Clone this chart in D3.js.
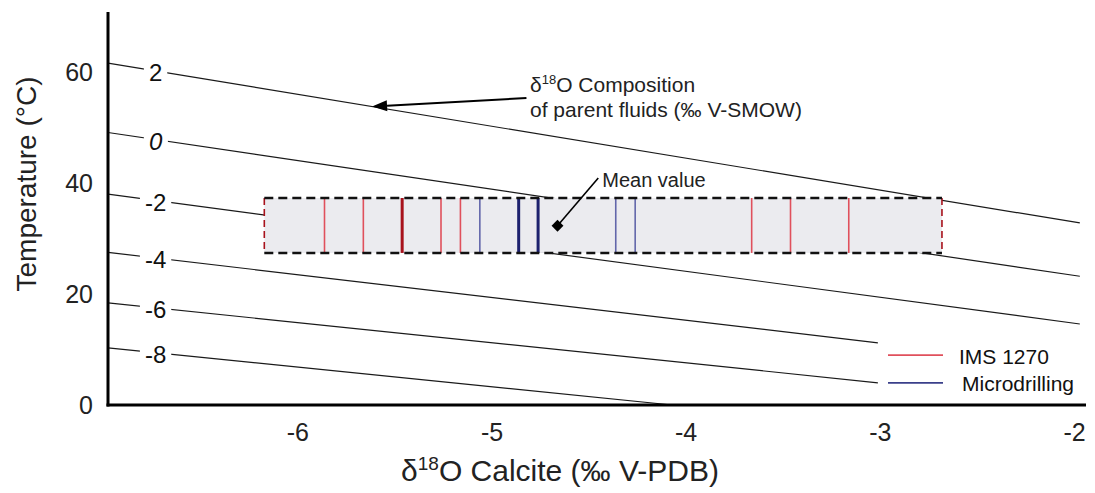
<!DOCTYPE html>
<html>
<head>
<meta charset="utf-8">
<script src="https://cdn.jsdelivr.net/npm/d3@7"></script>
<style>
  html, body { margin: 0; padding: 0; background: #fff; }
  svg { display: block; font-family: "Liberation Sans", Arial, sans-serif; }
</style>
</head>
<body>
<svg id="chart" width="1095" height="493"></svg>
<script>
// ---- data ----
const xTicks = [-6, -5, -4, -3, -2];
const yTicks = [0, 20, 40, 60];
const fluidValues = [2, 0, -2, -4, -6, -8];          // δ18O fluid (‰ V-SMOW)
const fluidStartX = [-6.975, -6.975, -6.975, -6.975, -6.975, -6.975];
const fluidStartT = [61.6, 49.1, 38.0, 27.5, 18.4, 10.3];
const fluidEndX = [-1.97, -1.97, -1.97, -3.01, -3.01, -4.07];
const fluidEndT = [32.8, 23.2, 14.6, 11.2, 4.0, 0];
const imsValues = [-6.17, -5.86, -5.66, -5.46, -5.46, -5.26, -5.16, -3.66, -3.46, -3.16, -2.68];
const microValues = [-5.06, -4.86, -4.86, -4.76, -4.76, -4.36, -4.26];
const rangeX = [-6.17, -2.68];
const rangeT = [27.4, 37.3];
const meanValue = [-4.66, 32.3];
const legendLabels = ["IMS 1270", "Microdrilling"];

// ---- scales ----
const svg = d3.select("#chart");
const x = d3.scaleLinear().domain([-6.975, -2]).range([108, 1074]);
const y = d3.scaleLinear().domain([0, 60]).range([405, 72]);

const fluids = fluidValues.map((v, i) => ({
  v, x0: fluidStartX[i], t0: fluidStartT[i], x1: fluidEndX[i], t1: fluidEndT[i]
}));
const tAt = (f, xv) => f.t0 + (f.t1 - f.t0) * (xv - f.x0) / (f.x1 - f.x0);

// ---- fluid composition lines ----
svg.append("g").selectAll("line").data(fluids).join("line")
  .attr("x1", d => x(d.x0)).attr("y1", d => y(d.t0))
  .attr("x2", d => x(d.x1)).attr("y2", d => y(d.t1))
  .attr("stroke", "#1a1a1a").attr("stroke-width", 1.2);

// ---- range box ----
svg.append("rect")
  .attr("x", x(rangeX[0])).attr("y", y(rangeT[1]))
  .attr("width", x(rangeX[1]) - x(rangeX[0]))
  .attr("height", y(rangeT[0]) - y(rangeT[1]))
  .attr("fill", "#ebebef");

// ---- sample lines ----
function drawSamples(values, color, darkColor) {
  const counts = d3.rollups(values, g => g.length, d => d);
  svg.append("g").selectAll("line").data(counts).join("line")
    .attr("x1", d => x(d[0])).attr("x2", d => x(d[0]))
    .attr("y1", y(rangeT[1])).attr("y2", y(rangeT[0]))
    .attr("stroke", d => {
      const edge = d[0] === rangeX[0] || d[0] === rangeX[1];
      return (d[1] > 1 || edge) ? darkColor : color;
    })
    .attr("stroke-width", d => d[1] > 1 ? 3 : 1.6)
    .attr("stroke-dasharray", d => (d[0] === rangeX[0] || d[0] === rangeX[1]) ? "7,4" : null);
}
drawSamples(imsValues, "#e0505c", "#a8121c");
drawSamples(microValues, "#6266aa", "#1d216e");

// box dashed top/bottom
[rangeT[1], rangeT[0]].forEach(t => {
  svg.append("line")
    .attr("x1", x(rangeX[0])).attr("x2", x(rangeX[1]))
    .attr("y1", y(t)).attr("y2", y(t))
    .attr("stroke", "#111").attr("stroke-width", 2.4)
    .attr("stroke-dasharray", "9,5");
});

// ---- fluid labels ----
const labelX = -6.73;
const gL = svg.append("g");
fluids.forEach(f => {
  const cx = x(labelX), cy = y(tAt(f, labelX)) + 2;
  const g = gL.append("g");
  const txt = g.append("text")
    .attr("x", cx).attr("y", cy)
    .attr("text-anchor", "middle").attr("dominant-baseline", "central")
    .attr("font-size", 24).attr("fill", "#111")
    .attr("font-style", f.v === 0 ? "italic" : "normal")
    .text(f.v);
  const bb = txt.node().getBBox();
  g.insert("rect", "text")
    .attr("x", bb.x - 5).attr("y", bb.y + 3)
    .attr("width", bb.width + 10).attr("height", bb.height - 6)
    .attr("fill", "#fff");
});

// ---- axes ----
svg.append("line").attr("x1", 108).attr("x2", 108).attr("y1", 12).attr("y2", 406.5)
  .attr("stroke", "#000").attr("stroke-width", 3);
svg.append("line").attr("x1", 106.5).attr("x2", 1086).attr("y1", 405).attr("y2", 405)
  .attr("stroke", "#000").attr("stroke-width", 3);

const xAxis = svg.append("g").attr("transform", "translate(0,405)")
  .call(d3.axisBottom(x).tickValues(xTicks).tickSize(0).tickPadding(22).tickFormat(d => d));
xAxis.select(".domain").remove();
xAxis.selectAll("text").attr("font-size", 25).attr("fill", "#222")
  .attr("font-family", "Liberation Sans, Arial, sans-serif").attr("dy", "0.55em");

const yAxis = svg.append("g").attr("transform", "translate(108,0)")
  .call(d3.axisLeft(y).tickValues(yTicks).tickSize(0).tickPadding(15).tickFormat(d => d));
yAxis.select(".domain").remove();
yAxis.selectAll("text").attr("font-size", 25).attr("fill", "#222")
  .attr("font-family", "Liberation Sans, Arial, sans-serif");

// axis titles
svg.append("text")
  .attr("transform", "translate(26,184) rotate(-90)")
  .attr("text-anchor", "middle").attr("dominant-baseline", "central")
  .attr("font-size", 28).attr("fill", "#222")
  .text("Temperature (°C)");

const xt = svg.append("text")
  .attr("x", 560).attr("y", 481)
  .attr("text-anchor", "middle")
  .attr("font-size", 30).attr("fill", "#222");
xt.append("tspan").text("δ");
xt.append("tspan").attr("font-size", 19).attr("dy", -11).text("18");
xt.append("tspan").attr("dy", 11).text("O Calcite (‰ V-PDB)");

// ---- annotation: fluid composition ----
const f2 = fluids[0];
const tipX = -5.615, tipT = tAt(f2, tipX);
const startX = -4.82, startT = 55.3;
const sx = x(startX), sy = y(startT), tx = x(tipX), ty = y(tipT);
const ang = Math.atan2(ty - sy, tx - sx);
const headL = 15, headW = 5.5;
const bx = tx - headL * Math.cos(ang), by = ty - headL * Math.sin(ang);
svg.append("line").attr("x1", sx).attr("y1", sy).attr("x2", bx).attr("y2", by)
  .attr("stroke", "#000").attr("stroke-width", 2);
svg.append("path")
  .attr("d", `M${tx},${ty} L${bx + headW * Math.sin(ang)},${by - headW * Math.cos(ang)} L${bx - headW * Math.sin(ang)},${by + headW * Math.cos(ang)} Z`)
  .attr("fill", "#000");

const at = svg.append("text").attr("x", 530).attr("y", 92)
  .attr("font-size", 21).attr("fill", "#222");
at.append("tspan").text("δ");
at.append("tspan").attr("font-size", 13).attr("dy", -8).text("18");
at.append("tspan").attr("dy", 8).text("O Composition");
svg.append("text").attr("x", 530).attr("y", 117)
  .attr("font-size", 21).attr("fill", "#222")
  .text("of parent fluids (‰ V-SMOW)");

// ---- mean value ----
const mx = x(meanValue[0]), my = y(meanValue[1]);
const lx = x(-4.45), ly = y(40.9);
svg.append("line").attr("x1", mx).attr("y1", my).attr("x2", lx).attr("y2", ly)
  .attr("stroke", "#000").attr("stroke-width", 1.6);
svg.append("path")
  .attr("d", d3.symbol(d3.symbolDiamond2, 90)())
  .attr("transform", `translate(${mx},${my})`)
  .attr("fill", "#000");
svg.append("text").attr("x", lx + 4).attr("y", ly + 2)
  .attr("dominant-baseline", "central")
  .attr("font-size", 20).attr("fill", "#222").text("Mean value");

// ---- legend ----
const legColors = ["#e0505c", "#3a3f8a"];
const legY = [y(9.0), y(4.0)];
legendLabels.forEach((lab, i) => {
  svg.append("line").attr("x1", 888).attr("x2", 943)
    .attr("y1", legY[i]).attr("y2", legY[i])
    .attr("stroke", legColors[i]).attr("stroke-width", 1.8);
  svg.append("text").attr("x", i === 0 ? 959 : 962).attr("y", legY[i] + 1)
    .attr("dominant-baseline", "central")
    .attr("font-size", 21).attr("fill", "#111").text(lab);
});
</script>
</body>
</html>
